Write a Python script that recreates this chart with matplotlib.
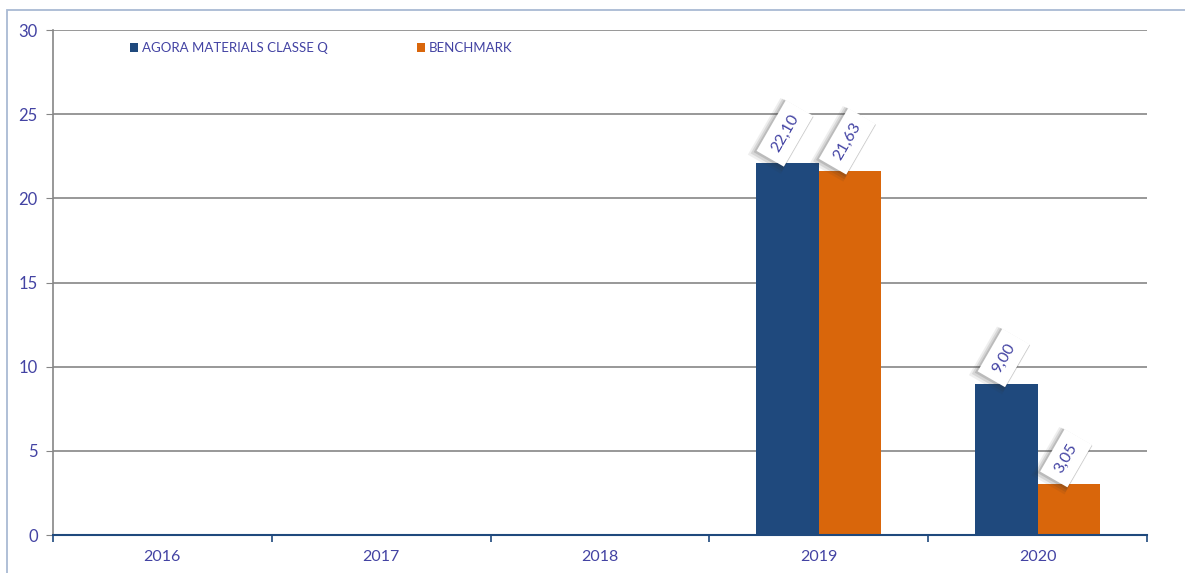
import numpy as np
import matplotlib.pyplot as plt
from matplotlib.patches import Rectangle

plt.rcParams['font.family'] = ['Lato', 'DejaVu Sans']

# data
years = ['2016', '2017', '2018', '2019', '2020']
fund = [np.nan, np.nan, np.nan, 22.10, 9.00]
bench = [np.nan, np.nan, np.nan, 21.63, 3.05]
series_names = ['AGORA MATERIALS CLASSE Q', 'BENCHMARK']
yticks = [0, 5, 10, 15, 20, 25, 30]

blue = '#1F497D'
orange = '#D9660B'
txt = '#4343A3'
grid = '#868686'

fig = plt.figure(figsize=(11.85, 5.73), dpi=100)
ax = fig.add_axes([0.0447, 0.0663, 0.9233, 0.8813])

# outer frame of the chart area (runs off the right and bottom edge)
fig.patches.append(Rectangle((0.0063, -0.05), 1.0, 1.032, transform=fig.transFigure,
                             facecolor='none', edgecolor='#A9BAD3', linewidth=1.3))

x = np.arange(len(years))
w = 0.285
b1 = ax.bar(x - w / 2, fund, w, color=blue, label=series_names[0], zorder=3)
b2 = ax.bar(x + w / 2, bench, w, color=orange, label=series_names[1], zorder=3)

# rotated value labels with white box + soft shadow
for bars, vals in [(b1, fund), (b2, bench)]:
    for bar, v in zip(bars, vals):
        if np.isnan(v):
            continue
        cx = bar.get_x() + bar.get_width() / 2
        lab = f'{v:.2f}'.replace('.', ',')
        for k, a in [(3, 0.08), (2, 0.12), (1, 0.16)]:
            ax.annotate(lab, (cx, v), xytext=(-2 - k, 6 - k * 0.6), textcoords='offset points',
                        ha='center', va='bottom', rotation=60, fontsize=11.5, color='none',
                        bbox=dict(boxstyle='square,pad=%.2f' % (0.55 + 0.07 * k),
                                  facecolor='#303030', edgecolor='none', alpha=a), zorder=4)
        ax.annotate(lab, (cx, v), xytext=(-2, 6), textcoords='offset points',
                    ha='center', va='bottom', rotation=60, fontsize=11.5, color=txt,
                    bbox=dict(boxstyle='square,pad=0.55', facecolor='white',
                              edgecolor='none'), zorder=5)

ax.set_xlim(-0.5, len(years) - 0.5)
ax.set_ylim(0, 30)
ax.set_yticks(yticks)
ax.set_xticks(x)
ax.set_xticklabels(years)
ax.set_xticks(np.arange(len(years) + 1) - 0.5, minor=True)
ax.tick_params(axis='x', which='major', length=0, pad=11, labelcolor=txt, labelsize=11.5)
ax.tick_params(axis='x', which='minor', length=5, color=blue, width=1.2)
ax.tick_params(axis='y', length=5, color=grid, labelcolor=txt, labelsize=12, pad=6)

ax.yaxis.grid(True, color=grid, linewidth=1.2, zorder=0)
ax.set_axisbelow(True)
for s in ['top', 'right']:
    ax.spines[s].set_visible(False)
ax.spines['left'].set_color(grid)
ax.spines['left'].set_linewidth(1.2)
ax.spines['bottom'].set_color(blue)
ax.spines['bottom'].set_linewidth(1.5)
ax.spines['bottom'].set_zorder(6)

leg = ax.legend(loc='upper left', bbox_to_anchor=(0.06, 1.0), ncol=2, frameon=False,
                fontsize=9.5, handlelength=0.6, handleheight=0.65, handletextpad=0.3,
                columnspacing=6.7, labelcolor=txt)

fig.savefig('out.png', dpi=100)
